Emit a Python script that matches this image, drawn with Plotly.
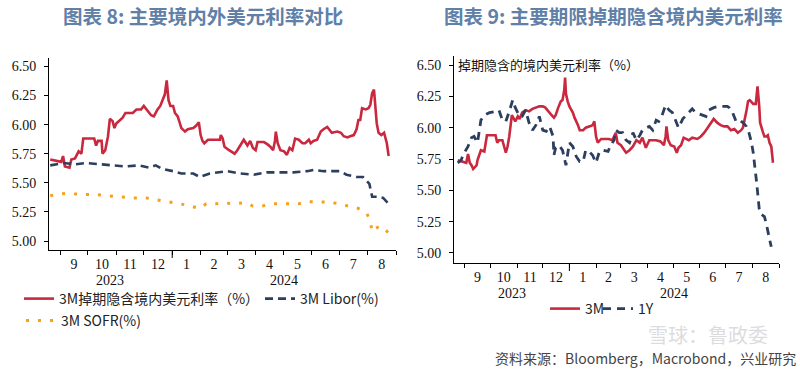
import plotly.graph_objects as go

# ---------------- data ----------------
l3m_dates = ["2023-08-21","2023-08-28","2023-09-02","2023-09-04","2023-09-06","2023-09-11","2023-09-13","2023-09-17",
 "2023-09-21","2023-09-24","2023-09-26","2023-10-08","2023-10-10","2023-10-12","2023-10-16","2023-10-17","2023-10-20",
 "2023-10-23","2023-10-25","2023-10-28","2023-10-30","2023-11-01","2023-11-04","2023-11-08","2023-11-11","2023-11-19",
 "2023-11-23","2023-11-28","2023-12-01","2023-12-04","2023-12-07","2023-12-09","2023-12-12","2023-12-16","2023-12-19",
 "2023-12-21","2023-12-24","2023-12-26","2023-12-28","2023-12-30","2024-01-02","2024-01-04","2024-01-07","2024-01-11",
 "2024-01-15","2024-01-18","2024-01-24","2024-01-27","2024-01-30","2024-02-01","2024-02-03","2024-02-05","2024-02-09",
 "2024-02-22","2024-02-23","2024-02-25","2024-02-27","2024-03-03","2024-03-09","2024-03-12","2024-03-16","2024-03-19",
 "2024-03-23","2024-03-26","2024-03-29","2024-04-01","2024-04-03","2024-04-10","2024-04-14","2024-04-17","2024-04-20",
 "2024-04-22","2024-04-23","2024-04-25","2024-04-28","2024-05-02","2024-05-05","2024-05-08","2024-05-11","2024-05-14",
 "2024-05-18","2024-05-22","2024-05-25","2024-05-29","2024-05-31","2024-06-03","2024-06-07","2024-06-09","2024-06-11",
 "2024-06-14","2024-06-18","2024-06-20","2024-06-23","2024-06-29","2024-07-03","2024-07-06","2024-07-10","2024-07-13",
 "2024-07-17","2024-07-20","2024-07-22","2024-07-24","2024-07-26","2024-07-30","2024-08-02","2024-08-04","2024-08-06",
 "2024-08-08","2024-08-09","2024-08-10","2024-08-11","2024-08-13","2024-08-16","2024-08-19","2024-08-21","2024-08-22",
 "2024-08-24"]
l3m_vals = [5.70,5.69,5.68,5.73,5.64,5.63,5.70,5.71,
 5.77,5.75,5.88,5.88,5.82,5.86,5.86,5.75,5.78,
 5.90,6.05,6.03,5.97,6.01,6.03,6.06,6.10,6.10,
 6.13,6.13,6.16,6.13,6.10,6.08,6.07,6.13,6.16,
 6.20,6.26,6.38,6.21,6.16,6.16,6.10,6.07,5.97,
 5.94,5.96,5.97,5.99,6.02,5.91,5.86,5.84,5.87,
 5.87,5.91,5.88,5.81,5.78,5.75,5.78,5.83,5.87,
 5.82,5.86,5.80,5.78,5.85,5.85,5.83,5.81,5.78,
 5.86,5.94,5.84,5.78,5.77,5.74,5.80,5.78,5.88,
 5.87,5.84,5.84,5.87,5.84,5.86,5.87,5.91,5.94,
 5.96,5.98,5.96,5.93,5.94,5.93,5.90,5.89,5.90,
 5.91,5.96,6.04,6.04,6.14,6.13,6.14,6.17,6.27,
 6.30,6.20,6.04,6.01,5.93,5.91,5.93,5.87,5.84,
 5.73]

libor_dates = ["2023-08-21","2023-09-04","2023-09-18","2023-09-29","2023-10-14","2023-10-28","2023-11-11","2023-11-26",
 "2023-12-07","2023-12-14","2023-12-21","2024-01-02","2024-01-11","2024-01-24","2024-01-31","2024-02-11","2024-03-01",
 "2024-03-15","2024-03-30","2024-04-13","2024-04-28","2024-05-12","2024-05-27","2024-06-03","2024-06-14","2024-06-25",
 "2024-07-02","2024-07-09","2024-07-20","2024-07-27","2024-07-31","2024-08-03","2024-08-06","2024-08-08","2024-08-13",
 "2024-08-18","2024-08-22","2024-08-24"]
libor_vals = [5.65,5.67,5.66,5.67,5.66,5.65,5.64,5.65,
 5.63,5.65,5.62,5.60,5.58,5.58,5.55,5.58,5.60,
 5.58,5.57,5.59,5.59,5.59,5.60,5.61,5.60,5.60,
 5.60,5.57,5.55,5.55,5.52,5.49,5.38,5.38,5.38,
 5.37,5.34,5.32]

sofr_dates = ["2023-08-21","2023-09-07","2023-09-25","2023-10-10","2023-10-21","2023-11-04","2023-11-19","2023-12-04",
 "2023-12-18","2024-01-02","2024-01-16","2024-01-31","2024-02-07","2024-02-18","2024-02-25","2024-03-07","2024-03-21",
 "2024-03-29","2024-04-08","2024-04-19","2024-05-03","2024-05-18","2024-05-29","2024-06-08","2024-06-19","2024-06-30",
 "2024-07-11","2024-07-22","2024-07-31","2024-08-04","2024-08-06","2024-08-10","2024-08-15","2024-08-19","2024-08-24"]
sofr_vals = [5.39,5.41,5.40,5.40,5.39,5.38,5.37,5.37,
 5.35,5.33,5.31,5.28,5.32,5.32,5.33,5.32,5.33,
 5.30,5.30,5.32,5.32,5.32,5.34,5.33,5.34,5.32,
 5.30,5.28,5.24,5.17,5.08,5.11,5.13,5.10,5.07]

r3m_dates = ["2023-08-24","2023-08-28","2023-09-03","2023-09-05","2023-09-07","2023-09-09","2023-09-11","2023-09-15",
 "2023-09-16","2023-09-20","2023-09-24","2023-09-27","2023-10-07","2023-10-09","2023-10-11","2023-10-15","2023-10-17",
 "2023-10-19","2023-10-21","2023-10-23","2023-10-26","2023-10-28","2023-10-30","2023-11-02","2023-11-04","2023-11-07",
 "2023-11-11","2023-11-15","2023-11-19","2023-11-27","2023-12-01","2023-12-04","2023-12-07","2023-12-10","2023-12-14",
 "2023-12-16","2023-12-19","2023-12-22","2023-12-24","2023-12-26","2023-12-27","2023-12-28","2023-12-30","2024-01-01",
 "2024-01-05","2024-01-07","2024-01-11","2024-01-13","2024-01-17","2024-01-20","2024-01-24","2024-01-28","2024-01-30",
 "2024-02-01","2024-02-03","2024-02-07","2024-02-16","2024-02-20","2024-02-22","2024-02-24","2024-02-26","2024-03-01",
 "2024-03-07","2024-03-11","2024-03-15","2024-03-19","2024-03-23","2024-03-26","2024-03-30","2024-04-03","2024-04-11",
 "2024-04-16","2024-04-20","2024-04-22","2024-04-23","2024-04-25","2024-04-28","2024-05-02","2024-05-05","2024-05-07",
 "2024-05-10","2024-05-13","2024-05-19","2024-05-23","2024-05-29","2024-06-02","2024-06-06","2024-06-08","2024-06-11",
 "2024-06-17","2024-06-21","2024-06-25","2024-06-29","2024-07-03","2024-07-07","2024-07-11","2024-07-15","2024-07-19",
 "2024-07-21","2024-07-23","2024-07-25","2024-07-27","2024-07-29","2024-08-02","2024-08-05","2024-08-06","2024-08-07",
 "2024-08-09","2024-08-10","2024-08-13","2024-08-15","2024-08-17","2024-08-19","2024-08-21","2024-08-23","2024-08-25"]
r3m_vals = [5.74,5.73,5.72,5.79,5.72,5.70,5.67,5.70,
 5.74,5.82,5.81,5.94,5.94,5.88,5.90,5.90,5.85,
 5.80,5.85,5.93,6.10,6.07,6.05,6.09,6.07,6.12,
 6.14,6.13,6.15,6.17,6.17,6.16,6.13,6.11,6.08,
 6.10,6.16,6.21,6.22,6.30,6.40,6.27,6.21,6.17,
 6.12,6.08,6.02,5.98,5.98,6.00,6.01,6.02,6.05,
 5.93,5.88,5.91,5.91,5.90,5.93,5.96,5.88,5.86,
 5.80,5.82,5.85,5.90,5.88,5.92,5.84,5.90,5.90,
 5.89,5.86,5.93,6.01,5.90,5.86,5.85,5.80,5.84,
 5.86,5.92,5.90,5.92,5.91,5.93,5.96,5.98,6.01,
 6.07,6.04,6.02,6.01,6.01,5.98,5.99,5.96,5.98,
 6.00,6.06,6.13,6.21,6.22,6.19,6.19,6.26,6.33,
 6.17,6.04,5.97,5.93,5.93,5.94,5.88,5.85,5.72]

r1y_dates = ["2023-08-24","2023-08-28","2023-08-30","2023-09-03","2023-09-05","2023-09-09","2023-09-12","2023-09-16",
 "2023-09-20","2023-09-24","2023-09-30","2023-10-07","2023-10-11","2023-10-15","2023-10-19","2023-10-23","2023-10-27",
 "2023-10-30","2023-11-04","2023-11-07","2023-11-11","2023-11-15","2023-11-19","2023-11-23","2023-11-27","2023-12-01",
 "2023-12-05","2023-12-09","2023-12-13","2023-12-14","2023-12-16","2023-12-20","2023-12-24","2023-12-28","2024-01-01",
 "2024-01-05","2024-01-09","2024-01-13","2024-01-17","2024-01-20","2024-01-24","2024-01-28","2024-02-01","2024-02-05",
 "2024-02-09","2024-02-15","2024-02-18","2024-02-22","2024-02-24","2024-02-28","2024-03-03","2024-03-07","2024-03-11",
 "2024-03-15","2024-03-19","2024-03-23","2024-03-26","2024-03-30","2024-04-03","2024-04-07","2024-04-11","2024-04-14",
 "2024-04-18","2024-04-22","2024-04-26","2024-04-30","2024-05-04","2024-05-07","2024-05-12","2024-05-16","2024-05-23",
 "2024-05-27","2024-05-31","2024-06-04","2024-06-08","2024-06-11","2024-06-17","2024-06-23","2024-06-29","2024-07-03",
 "2024-07-05","2024-07-09","2024-07-13","2024-07-17","2024-07-21","2024-07-25","2024-07-28","2024-07-31","2024-08-02",
 "2024-08-04","2024-08-06","2024-08-08","2024-08-09","2024-08-11","2024-08-15","2024-08-17","2024-08-19","2024-08-21",
 "2024-08-23"]
r1y_vals = [5.72,5.74,5.78,5.82,5.85,5.92,5.93,5.88,
 6.06,6.10,6.12,6.13,6.14,6.06,6.05,6.13,6.22,
 6.16,6.09,6.09,6.14,6.04,5.98,6.02,6.09,5.98,
 5.97,6.01,5.93,5.78,5.84,5.86,5.82,5.70,5.88,
 5.85,5.77,5.73,5.73,5.82,5.81,5.78,5.72,5.81,
 5.82,5.81,5.86,5.90,5.98,5.96,5.96,5.90,5.88,
 5.96,5.90,5.94,5.98,6.00,6.01,5.98,6.06,6.05,
 6.10,6.18,6.14,6.12,6.05,6.00,6.07,6.10,6.15,
 6.12,6.11,6.10,6.09,6.14,6.16,6.17,6.17,6.17,
 6.16,6.12,6.05,6.06,6.04,6.01,5.96,5.88,5.80,
 5.69,5.56,5.42,5.35,5.31,5.29,5.24,5.16,5.11,
 5.05]

y_ticks = [5.00, 5.25, 5.50, 5.75, 6.00, 6.25, 6.50]
x_range = ["2023-08-19 16:00", "2024-09-01"]
year_boundary = "2024-01-01"

# ---------------- styles ----------------
RED = "#C9283E"
NAVY = "#2C3F5E"
ORANGE = "#F5A11C"
CJK = "Noto Sans CJK SC"
SERIF = "Liberation Serif"
W, H = 800, 370

def px_x(p):
    return p / W

def px_y(p):
    return (H - p) / H

L_dom_x = [px_x(49), px_x(396)]
L_dom_y = [px_y(250), px_y(58)]
R_dom_x = [px_x(454), px_x(779)]
R_dom_y = [px_y(263), px_y(56)]

fig = go.Figure()
fig.add_trace(go.Scatter(x=l3m_dates, y=l3m_vals, mode="lines", name="3M掉期隐含境内美元利率（%）",
                         line=dict(color=RED, width=2.6), xaxis="x", yaxis="y", legend="legend"))
fig.add_trace(go.Scatter(x=libor_dates, y=libor_vals, mode="lines", name="3M Libor(%)",
                         line=dict(color=NAVY, width=2.6, dash="8px,5px"), xaxis="x", yaxis="y", legend="legend2"))
fig.add_trace(go.Scatter(x=sofr_dates, y=sofr_vals, mode="lines", name="3M SOFR(%)",
                         line=dict(color=ORANGE, width=3, dash="3px,9px"), xaxis="x", yaxis="y", legend="legend3"))
fig.add_trace(go.Scatter(x=r3m_dates, y=r3m_vals, mode="lines", name="3M",
                         line=dict(color=RED, width=2.6), xaxis="x2", yaxis="y2", legend="legend4"))
fig.add_trace(go.Scatter(x=r1y_dates, y=r1y_vals, mode="lines", name="1Y",
                         line=dict(color=NAVY, width=2.8, dash="8px,6px"), xaxis="x2", yaxis="y2", legend="legend5"))

def xaxis_cfg(domain, anchor, standoff):
    return dict(domain=domain, anchor=anchor, type="date", range=x_range,
                tick0="2023-09-01", dtick="M1", tickformat="%-m", ticklabelmode="period",
                ticks="outside", ticklen=4, tickwidth=1, tickcolor="#000",
                showline=True, linecolor="#000", linewidth=1, showgrid=False, zeroline=False,
                tickfont=dict(family=SERIF, size=14, color="#111"), ticklabelstandoff=standoff)

def yaxis_cfg(domain, anchor, rng):
    return dict(domain=domain, anchor=anchor, range=rng, tickvals=y_ticks, tickformat=".2f",
                ticks="outside", ticklen=4, tickwidth=1, tickcolor="#000",
                showline=True, linecolor="#000", linewidth=1, showgrid=False, zeroline=False,
                tickfont=dict(family=SERIF, size=14, color="#111"), ticklabelstandoff=5)

legend_common = dict(orientation="h", bgcolor="rgba(0,0,0,0)", font=dict(family=CJK, size=14, color="#222"),
                     xanchor="left", yanchor="middle", itemwidth=30, tracegroupgap=0)

def leg(x, y):
    d = dict(legend_common)
    d.update(x=px_x(x), y=px_y(y))
    return d

ann = []
ann.append(dict(text="<b>图表 8: 主要境内外美元利率对比</b>", x=px_x(61), y=px_y(15), xanchor="left", yanchor="middle",
                font=dict(family=CJK, size=19.5, color="#6080A8")))
ann.append(dict(text="<b>图表 9: 主要期限掉期隐含境内美元利率</b>", x=px_x(442), y=px_y(15), xanchor="left", yanchor="middle",
                font=dict(family=CJK, size=19.5, color="#6080A8")))
ann.append(dict(text="掉期隐含的境内美元利率（%）", x=px_x(456), y=px_y(64), xanchor="left", yanchor="middle",
                font=dict(family=CJK, size=13, color="#111")))
for t, xx, yy in [("2023", 110, 280), ("2024", 284, 280), ("2023", 512, 293), ("2024", 674, 293)]:
    ann.append(dict(text=t, x=px_x(xx), y=px_y(yy), xanchor="center", yanchor="middle",
                    font=dict(family=SERIF, size=14, color="#111")))
ann.append(dict(text="雪球：鲁政委", x=px_x(708), y=px_y(334), xanchor="center", yanchor="middle",
                font=dict(family=CJK, size=20, color="rgba(185,185,185,0.5)")))
ann.append(dict(text="资料来源：Bloomberg，Macrobond，兴业研究", x=px_x(798), y=px_y(358), xanchor="right", yanchor="middle",
                font=dict(family=CJK, size=14, color="#444")))
for a in ann:
    a.update(xref="paper", yref="paper", showarrow=False)

shapes = [
    dict(type="line", xref="x", yref="paper", x0=year_boundary, x1=year_boundary,
         y0=L_dom_y[0], y1=L_dom_y[0] - 8 / H, line=dict(color="#000", width=1)),
    dict(type="line", xref="x2", yref="paper", x0=year_boundary, x1=year_boundary,
         y0=R_dom_y[0], y1=R_dom_y[0] - 8 / H, line=dict(color="#000", width=1)),
]

fig.update_layout(
    width=W, height=H, margin=dict(l=0, r=0, t=0, b=0),
    paper_bgcolor="white", plot_bgcolor="white", showlegend=True,
    xaxis=xaxis_cfg(L_dom_x, "y", -3), yaxis=yaxis_cfg(L_dom_y, "x", [4.923, 6.572]),
    xaxis2=xaxis_cfg(R_dom_x, "y2", -3), yaxis2=yaxis_cfg(R_dom_y, "x2", [4.92, 6.572]),
    legend=leg(19, 299), legend2=leg(260, 299), legend3=leg(21, 321),
    legend4=leg(545, 309), legend5=leg(598, 309),
    annotations=ann, shapes=shapes,
)

fig.write_html("out.html", config={"displayModeBar": False},
               post_script="document.body.style.margin='0';document.body.style.overflow='hidden';")
